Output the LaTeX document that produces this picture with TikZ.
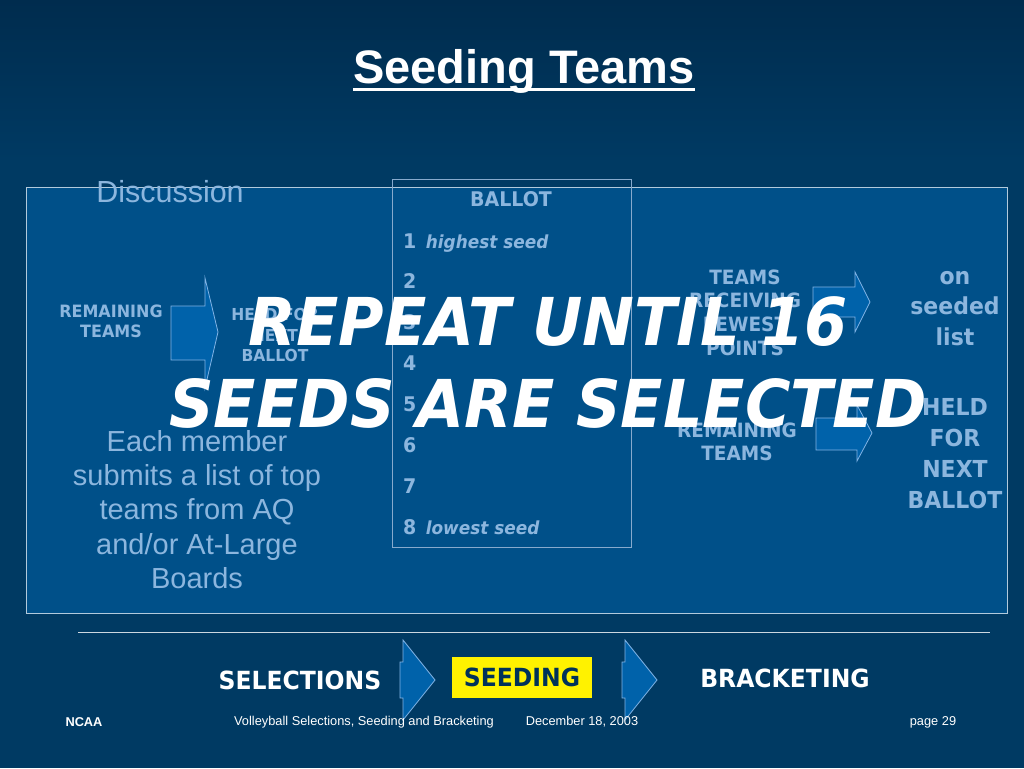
\documentclass[tikz,border=0pt]{standalone}
\usepackage{fontspec}
\setmainfont{Liberation Sans}
\newfontfamily\tahoma[FakeStretch=0.94]{DejaVu Sans}
\usetikzlibrary{positioning, calc}
\definecolor{slidebg}{RGB}{0,58,99}
\definecolor{slidetop}{RGB}{0,44,78}
\definecolor{panelblue}{RGB}{0,80,137}
\definecolor{arrowblue}{RGB}{0,98,170}
\definecolor{arrowline}{RGB}{130,180,230}
\definecolor{softblue}{RGB}{140,182,222}
\definecolor{ballotline}{RGB}{135,170,205}
\definecolor{navytext}{RGB}{0,50,90}
\newcommand{\fsz}[2]{\fontsize{#1}{#2}\selectfont}

\tikzset{
  boldlbl/.style={text=softblue, align=center, inner sep=0pt},
  plainlbl/.style={text=softblue, align=center, inner sep=0pt},
  blockarrow/.style={fill=arrowblue, draw=arrowline, line width=0.8pt, line join=miter},
  ballotnum/.style={text=softblue, inner sep=0pt, font=\tahoma\bfseries\fsz{20.2}{24}},
  seedlbl/.style={text=softblue, inner sep=0pt, font=\tahoma\bfseries\itshape\fsz{18}{21}},
  stagelbl/.style={text=white, inner sep=0pt, font=\tahoma\bfseries\fsz{25}{29}},
  footlbl/.style={text=white, inner sep=0pt, font=\fsz{12.8}{15}}
}

\begin{document}
\begin{tikzpicture}[x=1pt, y=-1pt]
    % slide background
    \useasboundingbox (0,0) rectangle (1024,768);
    \fill[slidebg] (0,0) rectangle (1024,768);
    \shade[top color=slidetop, bottom color=slidebg] (0,0) rectangle (1024,160);

    % panels
    \draw[panelblue!30!white, fill=panelblue, line width=0.8pt] (26,187) rectangle (1007,613);
    \draw[ballotline, line width=0.8pt] (392,179) rectangle (631,547);

    % block arrows
    \draw[blockarrow] (171,306) -- (205,306) -- (205,278) -- (218,332)
        -- (205,388) -- (205,360) -- (171,360) -- cycle;
    \draw[blockarrow] (813,287) -- (855,287) -- (855,272) -- (870,302)
        -- (855,332) -- (855,317) -- (813,317) -- cycle;
    \draw[blockarrow] (816,418) -- (857,418) -- (857,405) -- (872,433)
        -- (857,461) -- (857,450) -- (816,450) -- cycle;

    % title
    \node[text=white, inner sep=0pt, anchor=base, font=\bfseries\fsz{47}{56}]
        (title) at (524,83) {Seeding Teams};
    \draw[white, line width=3pt]
        ([yshift=-6pt]title.base west) -- ([yshift=-6pt]title.base east);

    % left column
    \node[plainlbl, anchor=base, font=\fsz{30.5}{36}] (discuss) at (170,202) {Discussion};
    \node[boldlbl, font=\tahoma\bfseries\fsz{17}{20}] (remainL) at (111,321)
        {REMAINING\\TEAMS};
    \node[boldlbl, font=\tahoma\bfseries\fsz{16.5}{20.5}] (heldL) at (275,335)
        {HELD FOR\\NEXT\\BALLOT};
    \node[plainlbl, font=\fsz{29}{34.25}] (member) at (197,509.5)
        {Each member\\submits a list of top\\teams from AQ\\and/or At-Large\\Boards};

    % ballot
    \node[boldlbl, font=\tahoma\bfseries\fsz{20.2}{24}] (ballothead) at (511,199) {BALLOT};
    \foreach \i in {1,...,8}
        \node[ballotnum, anchor=base west] (num\i) at (403,{248+40.9*(\i-1)}) {\i};
    \node[seedlbl, anchor=base west] (hiseed) at ([xshift=9pt]num1.base east) {highest seed};
    \node[seedlbl, anchor=base west] (loseed) at ([xshift=9pt]num8.base east) {lowest seed};

    % right column
    \node[boldlbl, font=\tahoma\bfseries\fsz{19.7}{23.7}] (fewest) at (745,312.5)
        {TEAMS\\RECEIVING\\FEWEST\\POINTS};
    \node[boldlbl, font=\tahoma\bfseries\fsz{19.7}{23}] (remainR) at (737,441.5)
        {REMAINING\\TEAMS};
    \node[boldlbl, font=\tahoma\bfseries\fsz{23.4}{30.5}] (seeded) at (955,308.5)
        {on\\seeded\\list};
    \node[boldlbl, font=\tahoma\bfseries\fsz{23.4}{31}] (heldR) at (955,453.5)
        {HELD\\FOR\\NEXT\\BALLOT};

    % overlay
    \node[text=white, align=center, inner sep=0pt,
          font=\tahoma\bfseries\itshape\fsz{66}{82}] (repeat) at (548,363)
        {REPEAT UNTIL 16\\SEEDS ARE SELECTED};

    % process bar
    \draw[white!80!slidebg, line width=1pt] (78,632) -- (990,632);
    \foreach \dx in {0,222}
        \draw[blockarrow, shift={(\dx,0)}] (400,662) -- (403,662) -- (403,640)
            -- (435,680) -- (403,720) -- (403,698) -- (400,698) -- cycle;
    \node[stagelbl] (selections) at (300,680) {SELECTIONS};
    \node[fill=yellow, text=navytext, minimum width=140pt, minimum height=41pt,
          inner sep=0pt, font=\tahoma\bfseries\fsz{25}{29}] (seeding) at (522,677.5) {SEEDING};
    \node[stagelbl] (bracketing) at (785,678) {BRACKETING};

    % footer
    \node[footlbl, font=\bfseries\fsz{12.8}{15}] (ncaa) at (84,722) {NCAA};
    \node[footlbl] (event) at (364,722) {Volleyball Selections, Seeding and Bracketing};
    \node[footlbl] (date) at (582,722) {December 18, 2003};
    \node[footlbl] (page) at (933,722) {page 29};
\end{tikzpicture}
\end{document}
